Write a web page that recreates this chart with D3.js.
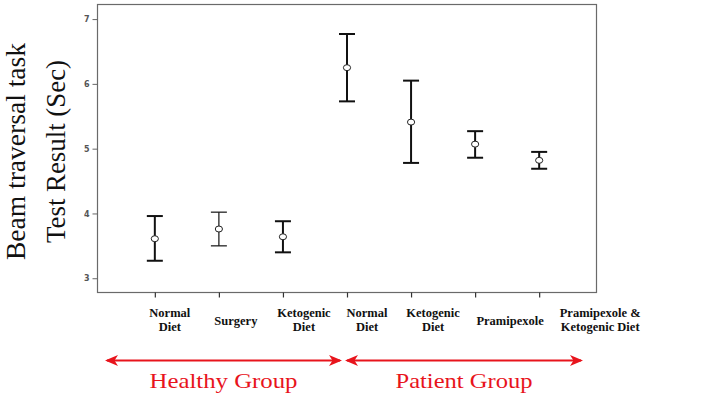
<!DOCTYPE html>
<html><head><meta charset="utf-8">
<script src="https://cdn.jsdelivr.net/npm/d3@7"></script>
<style>html,body{margin:0;padding:0;background:#fff;}svg{display:block;}</style>
</head><body>
<svg id="chart" width="724" height="398"></svg>
<script>
// ---- data ----
const categories = ["Normal Diet|H", "Surgery|H", "Ketogenic Diet|H", "Normal Diet|P", "Ketogenic Diet|P", "Pramipexole|P", "Pramipexole & Ketogenic Diet|P"];
const labelLines = [["Normal", "Diet"], ["Surgery"], ["Ketogenic", "Diet"], ["Normal", "Diet"], ["Ketogenic", "Diet"], ["Pramipexole"], ["Pramipexole &", "Ketogenic Diet"]];
const means = [3.61, 3.76, 3.64, 6.25, 5.41, 5.07, 4.82];
const upper = [3.96, 4.02, 3.88, 6.77, 6.05, 5.27, 4.95];
const lower = [3.27, 3.50, 3.40, 5.73, 4.78, 4.86, 4.69];
const yTicks = [3, 4, 5, 6, 7];
const groups = ["Healthy Group", "Patient Group"];
const yTitle = ["Beam traversal task", "Test Result (Sec)"];

// ---- layout ----
const plot = {left: 97.5, right: 596.5, top: 4.5, bottom: 292.5};
const labelNudge = [15, 17, 21, 20, 22, 35, 61];
const barWidths = [2, 1.2, 2, 2, 2, 2, 2];
const arrowY = 360.5;
const arrowSpans = [[105, 342], [345, 583]];
const groupLen = [148, 137];
const yTitleLen = [217, 183];
const yTitleBase = [24.5, 65];

const svg = d3.select("#chart");
const x = d3.scalePoint().domain(categories).range([plot.left, plot.right]).padding(0.895);
const y = d3.scaleLinear().domain([2.78, 7.225]).range([plot.bottom, plot.top]);

// frame
svg.append("rect").attr("x", plot.left).attr("y", plot.top)
  .attr("width", plot.right - plot.left).attr("height", plot.bottom - plot.top)
  .attr("fill", "none").attr("stroke", "#6a6a6a").attr("stroke-width", 1.2);

// y axis
const yAxis = d3.axisLeft(y).tickValues(yTicks).tickSize(5).tickPadding(3).tickFormat(d3.format("d"));
const gy = svg.append("g").attr("transform", `translate(${plot.left},0)`).call(yAxis);
gy.select(".domain").remove();
gy.selectAll(".tick line").attr("stroke", "#666");
gy.selectAll(".tick text").attr("fill", "#555").attr("font-family", "DejaVu Sans, sans-serif")
  .attr("font-size", 8).attr("font-weight", "bold");

// x axis ticks
const xAxis = d3.axisBottom(x).tickSize(5).tickFormat("");
const gx = svg.append("g").attr("transform", `translate(0,${plot.bottom})`).call(xAxis);
gx.select(".domain").remove();
gx.selectAll(".tick line").attr("stroke", "#333").attr("stroke-width", 1.2);

// x labels
const lab = svg.append("g").attr("font-family", "Liberation Serif, Times New Roman, serif")
  .attr("font-weight", "bold").attr("font-size", 12.5).attr("fill", "#111").attr("text-anchor", "middle");
categories.forEach((c, i) => {
  const lines = labelLines[i];
  const cx = x(c) + labelNudge[i];
  const t = lab.append("text").attr("x", cx).attr("y", lines.length === 1 ? 324.5 : 316.5);
  lines.forEach((l, j) => t.append("tspan").attr("x", cx).attr("dy", j === 0 ? 0 : 14).text(l));
});

// error bars
const eb = svg.append("g").attr("stroke", "#111").attr("fill", "none");
categories.forEach((c, i) => {
  const cx = x(c), w = barWidths[i];
  eb.append("line").attr("x1", cx).attr("x2", cx).attr("y1", y(upper[i])).attr("y2", y(lower[i])).attr("stroke-width", w);
  [upper[i], lower[i]].forEach(v => eb.append("line").attr("x1", cx - 8).attr("x2", cx + 8)
    .attr("y1", y(v)).attr("y2", y(v)).attr("stroke-width", w));
  svg.append("ellipse").attr("cx", cx).attr("cy", y(means[i])).attr("rx", 3.6).attr("ry", 3)
    .attr("fill", "#fff").attr("stroke", "#222").attr("stroke-width", 1);
});

// y title
yTitle.forEach((s, i) => {
  svg.append("text").attr("transform", `translate(${yTitleBase[i]},151.5) rotate(-90)`)
    .attr("font-family", "Liberation Serif, Times New Roman, serif").attr("font-size", 27.5)
    .attr("text-anchor", "middle").attr("fill", "#111")
    .attr("textLength", yTitleLen[i]).attr("lengthAdjust", "spacingAndGlyphs").text(s);
});

// arrows
const defs = svg.append("defs");
["s", "e"].forEach(k => {
  defs.append("marker").attr("id", "ah" + k).attr("viewBox", "0 0 13 11").attr("refX", k === "e" ? 13 : 0).attr("refY", 5.5)
    .attr("markerWidth", 13).attr("markerHeight", 11).attr("markerUnits", "userSpaceOnUse").attr("orient", "auto")
    .append("path").attr("d", k === "e" ? "M0,0 L13,5.5 L0,11 L3.5,5.5 Z" : "M13,0 L0,5.5 L13,11 L9.5,5.5 Z").attr("fill", "#e8141c");
});
arrowSpans.forEach((s, i) => {
  svg.append("line").attr("x1", s[0] + 2).attr("x2", s[1] - 2).attr("y1", arrowY).attr("y2", arrowY)
    .attr("stroke", "#e8141c").attr("stroke-width", 2);
  svg.append("line").attr("x1", s[0]).attr("x2", s[1]).attr("y1", arrowY).attr("y2", arrowY)
    .attr("stroke", "none").attr("stroke-width", 0)
    .attr("marker-start", "url(#ahs)").attr("marker-end", "url(#ahe)");
  svg.append("text").attr("x", (s[0] + s[1]) / 2).attr("y", 388).attr("text-anchor", "middle")
    .attr("font-family", "Liberation Serif, Times New Roman, serif").attr("font-size", 21)
    .attr("fill", "#e8141c").attr("textLength", groupLen[i]).attr("lengthAdjust", "spacingAndGlyphs")
    .text(groups[i]);
});
</script>
</body></html>
